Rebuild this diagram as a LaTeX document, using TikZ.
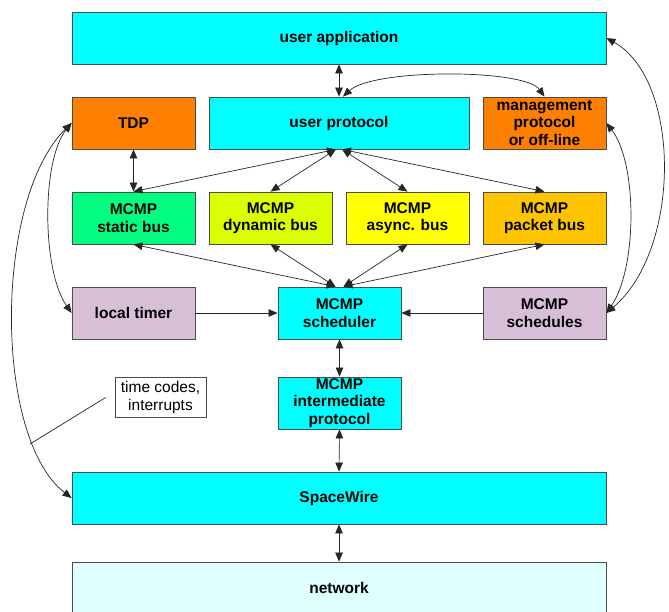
\documentclass[tikz,border=0pt]{standalone}
\usepackage{fontspec}
\setmainfont{Liberation Sans}
\usetikzlibrary{arrows.meta}
\definecolor{cy}{HTML}{00FFFF}
\definecolor{orng}{HTML}{FF8000}
\definecolor{grn}{HTML}{00FF80}
\definecolor{ygrn}{HTML}{DAFF00}
\definecolor{yel}{HTML}{FFFF00}
\definecolor{amb}{HTML}{FFC400}
\definecolor{lil}{HTML}{D8BFD8}
\definecolor{lcy}{HTML}{E0FFFF}
\begin{document}
\begin{tikzpicture}[x=1pt,y=-1pt,
  box/.style={draw=black!70, line width=0.8pt, inner sep=0pt, minimum height=52pt,
    align=center, text=black, font=\bfseries\fontsize{15.5}{17.5}\selectfont},
  wide/.style={box, minimum width=534pt},
  small/.style={box, minimum width=123pt},
  dbl/.style={{Triangle[length=9pt,width=7.5pt]}-{Triangle[length=9pt,width=7.5pt]}, line width=0.7pt, draw=black!85},
  one/.style={-{Triangle[length=9pt,width=7.5pt]}, line width=0.7pt, draw=black!85},
  lblbox/.style={draw=black!70, line width=0.7pt, fill=white, inner sep=0pt,
    minimum width=91pt, minimum height=40pt, align=center,
    font=\fontsize{15.5}{18}\selectfont}
]
\clip (0,0) rectangle (669,612);
\fill[white] (0,0) rectangle (669,612);

\node[wide, fill=cy] (ua) at (339,38) {user application};
\node[small, fill=orng] (tdp) at (133.5,123) {TDP};
\node[box, fill=cy, minimum width=260pt] (up) at (339,123) {user protocol};
\node[small, fill=orng] (mg) at (544.5,123) {management\\protocol\\or off-line};

\node[small, fill=grn] (sb) at (133.5,218) {MCMP\\static bus};
\node[small, fill=ygrn] (db) at (270.5,218) {MCMP\\dynamic bus};
\node[small, fill=yel] (ab) at (407.5,218) {MCMP\\async. bus};
\node[small, fill=amb] (pb) at (544.5,218) {MCMP\\packet bus};

\node[small, fill=lil] (lt) at (133.5,313) {local timer};
\node[small, fill=cy] (sc) at (339.5,313) {MCMP\\scheduler};
\node[small, fill=lil] (ss) at (544.5,313) {MCMP\\schedules};

\node[small, fill=cy] (im) at (339.5,403) {MCMP\\intermediate\\protocol};
\node[lblbox] (lbl) at (160.5,397.5) {time codes,\\interrupts};

\node[wide, fill=cy] (sw) at (339,498) {SpaceWire};
\node[wide, fill=lcy] (net) at (339,588) {network};

% vertical links
\draw[dbl] (ua.south) -- (up.north);
\draw[dbl] ([xshift=4pt]up.north) .. controls +(30,-28) and +(-20,-28) .. (mg.north);
\draw[dbl] (tdp.south) -- (sb.north);
\draw[dbl] ([xshift=-3pt]up.south) -- (sb.north);
\draw[dbl] ([xshift=-3pt]up.south) -- (db.north);
\draw[dbl] ([xshift=3pt]up.south) -- (ab.north);
\draw[dbl] ([xshift=3pt]up.south) -- (pb.north);
\draw[dbl] (sb.south) -- ([xshift=-4pt]sc.north);
\draw[dbl] (db.south) -- ([xshift=-4pt]sc.north);
\draw[dbl] (ab.south) -- ([xshift=4pt]sc.north);
\draw[dbl] (pb.south) -- ([xshift=4pt]sc.north);
\draw[one] (lt.east) -- (sc.west);
\draw[one] (ss.west) -- (sc.east);
\draw[dbl] (sc.south) -- (im.north);
\draw[dbl] (im.south) -- (sw.north);
\draw[dbl] (sw.south) -- (net.north);

% side curves
\draw[dbl] (tdp.west) .. controls +(-30,37) and +(-30,-43) .. (lt.west);
\draw[dbl] (tdp.west) .. controls +(-78,77) and +(-78,-60) .. (sw.west);
\draw[dbl] (ua.east) .. controls +(75,42) and +(75,-63) .. (ss.east);
\draw[dbl] (mg.east) .. controls +(31,40) and +(31,-45) .. (ss.east);

% label pointer
\coordinate (tc) at (30,444);
\draw[line width=0.7pt, draw=black!85] ([xshift=-9pt]lbl.west) -- (tc);
\end{tikzpicture}
\end{document}
